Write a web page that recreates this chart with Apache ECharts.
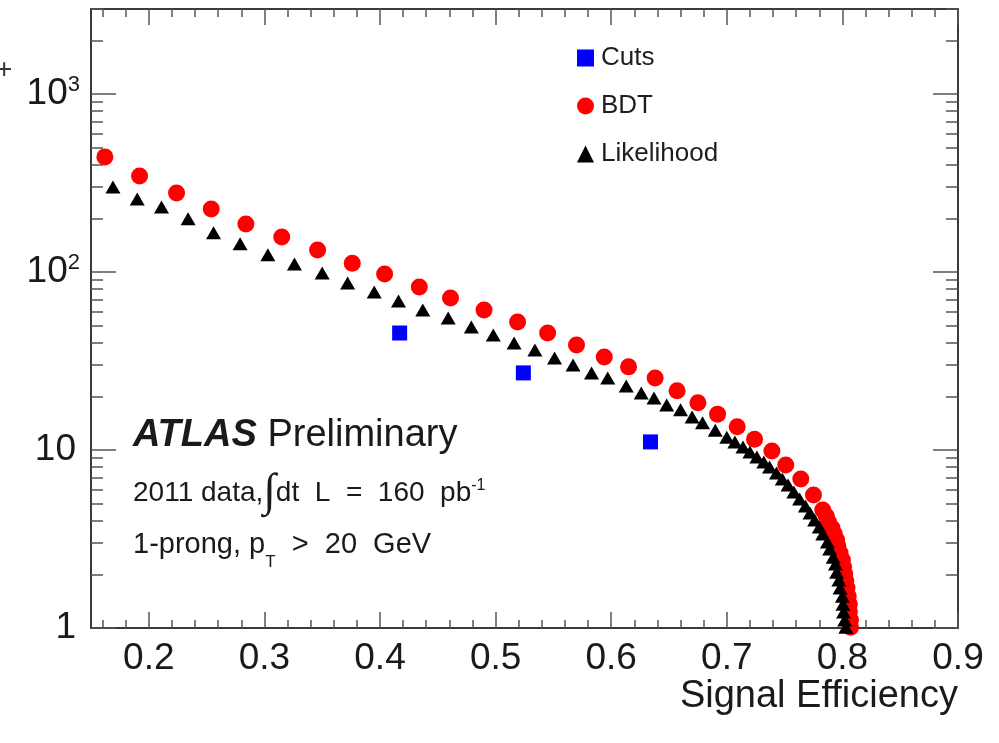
<!DOCTYPE html>
<html><head><meta charset="utf-8">
<script src="https://cdn.jsdelivr.net/npm/echarts@6/dist/echarts.min.js"></script>
<style>html,body{margin:0;padding:0;background:#fff}#c{width:999px;height:743px}</style>
</head><body><div id="c"></div>
<script>
// ---- data ----
const seriesNames = ['Cuts', 'BDT', 'Likelihood'];
const xAxisTitle = 'Signal Efficiency';

const cutsX = [0.417, 0.524, 0.634];
const cutsY = [45.4, 27.1, 11.1];

const bdtX = [0.162, 0.192, 0.224, 0.254, 0.284, 0.315, 0.346, 0.376, 0.404, 0.434,
  0.461, 0.490, 0.519, 0.545, 0.570, 0.594, 0.615, 0.638, 0.657, 0.675,
  0.692, 0.709, 0.724, 0.739, 0.751, 0.764, 0.775, 0.783,
  0.786, 0.788, 0.791, 0.793, 0.795, 0.796, 0.798, 0.800, 0.801, 0.802,
  0.803, 0.804, 0.805, 0.806, 0.806, 0.807, 0.807];
const bdtY = [443, 346, 278, 226, 186, 157, 133, 112, 97.4, 82.4,
  71.4, 61.2, 52.4, 45.4, 38.9, 33.3, 29.3, 25.4, 21.5, 18.4,
  15.9, 13.5, 11.5, 9.87, 8.24, 6.87, 5.59, 4.60,
  4.26, 3.94, 3.65, 3.37, 3.12, 2.89, 2.64, 2.41, 2.20, 2.01,
  1.84, 1.68, 1.51, 1.36, 1.23, 1.11, 1.01];

const likX = [0.169, 0.190, 0.211, 0.234, 0.256, 0.279, 0.303, 0.326, 0.350, 0.372,
  0.395, 0.416, 0.437, 0.459, 0.479, 0.498, 0.516, 0.534, 0.551, 0.567,
  0.583, 0.597, 0.613, 0.626, 0.637, 0.648, 0.660, 0.670, 0.679, 0.690, 0.700,
  0.707, 0.714, 0.720, 0.726, 0.732, 0.737, 0.743, 0.748, 0.753, 0.758,
  0.763, 0.768, 0.772, 0.776, 0.780, 0.783, 0.787, 0.789, 0.792, 0.794,
  0.795, 0.797, 0.798, 0.800, 0.8005, 0.801, 0.802, 0.803];
const likY = [300, 257, 232, 199, 166, 144, 125, 111, 98.7, 86.7,
  77.2, 68.7, 61.2, 55.2, 49.1, 44.3, 39.9, 36.5, 32.9, 30.0,
  27.1, 25.4, 22.9, 20.9, 19.6, 17.9, 16.8, 15.3, 14.2, 12.9, 11.8,
  11.1, 10.4, 9.74, 9.14, 8.57, 8.03, 7.43, 6.87, 6.36, 5.81,
  5.31, 4.85, 4.43, 4.04, 3.69, 3.37, 3.04, 2.78, 2.50, 2.29,
  2.06, 1.86, 1.68, 1.51, 1.36, 1.23, 1.11, 1.01];

const xMajorTicks = [0.2, 0.3, 0.4, 0.5, 0.6, 0.7, 0.8, 0.9];
const xMinorTicks = [0.16, 0.18, 0.22, 0.24, 0.26, 0.28, 0.32, 0.34, 0.36, 0.38,
  0.42, 0.44, 0.46, 0.48, 0.52, 0.54, 0.56, 0.58, 0.62, 0.64, 0.66, 0.68,
  0.72, 0.74, 0.76, 0.78, 0.82, 0.84, 0.86, 0.88];
const yMajorTicks = [1, 10, 100, 1000];
const yLabelBase = ['1', '10', '10', '10'];
const yLabelExp = ['', '', '2', '3'];
const yMinorTicks = [2, 3, 4, 5, 6, 7, 8, 9, 20, 30, 40, 50, 60, 70, 80, 90,
  200, 300, 400, 500, 600, 700, 800, 900, 2000, 3000];

// ---- chart ----
const FONT = "'Liberation Sans', Arial, Helvetica, sans-serif";
const AX = '#3a3a3a';
const chart = echarts.init(document.getElementById('c'), null, {renderer: 'canvas'});

function xAx(pos, ticks, len, showLine, showLabel) {
  return {
    type: 'value', min: 0.15, max: 0.9, position: pos,
    axisLine: {show: showLine, onZero: false, lineStyle: {color: AX, width: 2}},
    axisTick: {show: true, inside: true, length: len, customValues: ticks,
      lineStyle: {color: '#555', width: 1.5}},
    axisLabel: showLabel ? {show: true, customValues: ticks, margin: 12,
      fontSize: 37, fontFamily: FONT, color: '#1a1a1a',
      formatter: v => v.toFixed(1)} : {show: false},
    splitLine: {show: false}
  };
}
function yAx(pos, ticks, len, showLine, showLabel) {
  return {
    type: 'log', logBase: 10, min: 1, max: 3000, position: pos,
    axisLine: {show: showLine, onZero: false, lineStyle: {color: AX, width: 2}},
    axisTick: {show: true, inside: true, length: len, customValues: ticks,
      lineStyle: {color: '#555', width: 1.5}},
    axisLabel: showLabel ? {show: true, customValues: ticks, margin: 11,
      fontFamily: FONT, color: '#1a1a1a',
      formatter: v => {
        const i = yMajorTicks.findIndex(t => Math.abs(t - v) / t < 1e-6);
        if (i < 0) return '';
        return yLabelExp[i] ? '{n|' + yLabelBase[i] + '}{s|' + yLabelExp[i] + '}'
                            : '{n|' + yLabelBase[i] + '}{sp|}';
      },
      rich: {
        n: {fontSize: 37, fontFamily: FONT, color: '#1a1a1a', lineHeight: 40},
        s: {fontSize: 22, fontFamily: FONT, color: '#1a1a1a', verticalAlign: 'top', lineHeight: 40, padding: [0, 0, 14, 0]},
        sp: {width: 4}
      }} : {show: false},
    splitLine: {show: false}
  };
}

const option = {
  backgroundColor: '#ffffff',
  animation: false,
  grid: {left: 91, right: 41, top: 9, bottom: 115, containLabel: false, outerBoundsMode: 'none'},
  xAxis: [
    xAx('bottom', xMajorTicks, 16, true, true),
    xAx('bottom', xMinorTicks, 8, false, false),
    xAx('top', xMajorTicks, 16, true, false),
    xAx('top', xMinorTicks, 8, false, false)
  ],
  yAxis: [
    yAx('left', yMajorTicks, 25, true, true),
    yAx('left', yMinorTicks, 12, false, false),
    yAx('right', yMajorTicks, 25, true, false),
    yAx('right', yMinorTicks, 12, false, false)
  ],
  legend: {
    orient: 'vertical', left: 572, top: 38, itemGap: 18,
    itemWidth: 17, itemHeight: 17,
    data: seriesNames,
    textStyle: {fontSize: 26, fontFamily: FONT, color: '#1e1e1e', lineHeight: 30, padding: [0, 0, 0, 2]}
  },
  series: [
    {name: 'BDT', type: 'scatter', symbol: 'circle', symbolSize: 17,
     itemStyle: {color: '#ff0000', opacity: 1},
     data: bdtX.map((x, i) => [x, bdtY[i]])},
    {name: 'Likelihood', type: 'scatter', symbol: 'triangle', symbolSize: [15, 13],
     itemStyle: {color: '#000000', opacity: 1},
     data: likX.map((x, i) => [x, likY[i]])},
    {name: 'Cuts', type: 'scatter', symbol: 'rect', symbolSize: 15,
     itemStyle: {color: '#0000ff', opacity: 1},
     data: cutsX.map((x, i) => [x, cutsY[i]])}
  ],
  graphic: [
    {type: 'text', left: -4, top: 56, style: {text: '+', fontSize: 28, fontFamily: FONT, fill: '#333'}},
    {type: 'text', right: 41, top: 678, style: {text: xAxisTitle, fontSize: 38, fontFamily: FONT, fill: '#1a1a1a'}},
    {type: 'text', left: 133, top: 417, style: {
      text: '{a|ATLAS}{b| Preliminary}',
      rich: {
        a: {fontSize: 38, fontFamily: FONT, fontStyle: 'italic', fontWeight: 'bold', fill: '#1a1a1a'},
        b: {fontSize: 38, fontFamily: FONT, fill: '#1a1a1a'}
      }}},
    {type: 'text', left: 133, top: 470, style: {
      text: '{t|2011 data,}{i|∫}{t|dt  L  =  160  pb}{s|-1}',
      rich: {
        t: {fontSize: 28, fontFamily: FONT, fill: '#1a1a1a', lineHeight: 46, verticalAlign: 'middle'},
        i: {fontSize: 46, fontFamily: 'DejaVu Sans', fill: '#1a1a1a', lineHeight: 46, fontWeight: 'lighter'},
        s: {fontSize: 16, fontFamily: FONT, fill: '#1a1a1a', lineHeight: 46, verticalAlign: 'top', padding: [8, 0, 0, 0]}
      }}},
    {type: 'text', left: 133, top: 530, style: {
      text: '{t|1-prong, p}{u|T}{t|  >  20  GeV}',
      rich: {
        t: {fontSize: 29, fontFamily: FONT, fill: '#1a1a1a', lineHeight: 40},
        u: {fontSize: 17, fontFamily: FONT, fill: '#1a1a1a', lineHeight: 40, verticalAlign: 'bottom', padding: [0, 0, -6, 0]}
      }}}
  ]
};
chart.setOption(option);
</script></body></html>
